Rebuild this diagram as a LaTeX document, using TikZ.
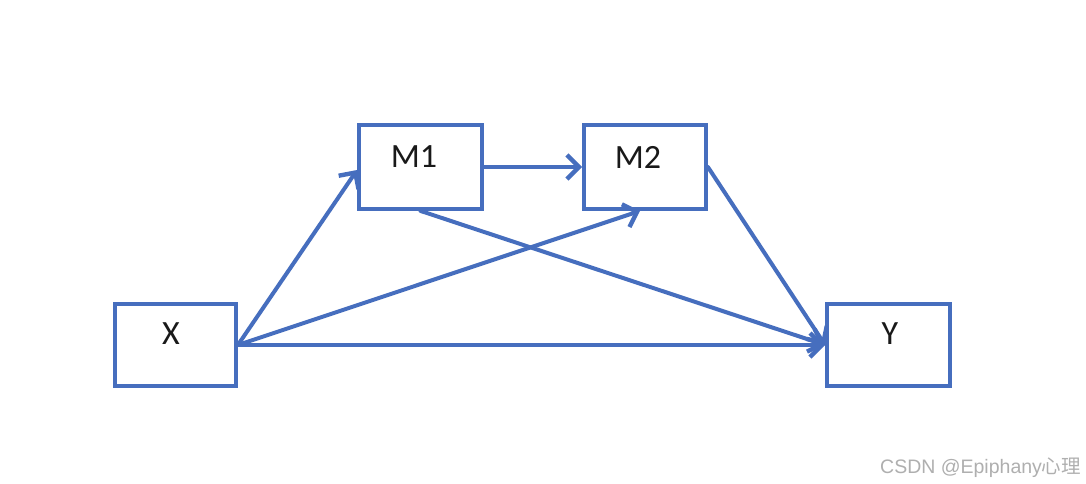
\documentclass[tikz,border=0pt]{standalone}
\usepackage{fontspec}
\setmainfont{Carlito}
\newfontfamily\wmfont{Liberation Sans}
\newfontfamily\cjkfont{Noto Sans CJK SC}
\usetikzlibrary{arrows.meta}
\definecolor{officeblue}{RGB}{70,110,190}
\definecolor{wmgray}{RGB}{175,175,175}
\tikzset{
  box/.style={draw=officeblue, line width=3.8pt, minimum width=122pt, minimum height=84pt, inner sep=0pt},
  lbl/.style={font=\fontsize{34}{40}\selectfont, text=black!90, inner sep=0pt},
  conn/.style={draw=officeblue, line width=4pt, line cap=round, -{Straight Barb[length=12pt,width=24pt,line width=4.4pt]}}
}
\begin{document}
\begin{tikzpicture}[x=1pt,y=-1pt]
\path[fill=white] (0,0) rectangle (1086,484);
\useasboundingbox (0,0) rectangle (1086,484);
\node[box, minimum width=121pt, minimum height=82pt] (X) at (175.5,345) {};
\node[box, minimum width=123pt] (M1) at (420.5,167) {};
\node[box] (M2) at (645,167) {};
\node[box, minimum width=123pt, minimum height=82pt] (Y) at (888.5,345) {};
\node[lbl] (tX) at (171,334) {X};
\node[lbl] (tM1) at (414,157) {M1};
\node[lbl] (tM2) at (638,157) {M2};
\node[lbl] (tY) at (890,334) {Y};
\draw[conn] (X.east) -- ([yshift=-3pt]M1.west);
\draw[conn] (X.east) -- ([xshift=-5pt]M2.south);
\draw[conn] (X.east) -- (Y.west);
\draw[conn] (M1.east) -- (M2.west);
\draw[conn] (M1.south) -- (Y.west);
\draw[conn] (M2.east) -- (Y.west);
\node[anchor=base west, inner sep=0pt, text=wmgray, font=\fontsize{19.5}{22}\selectfont] (wm) at (880,473) {\wmfont CSDN @Epiphany\cjkfont 心理};
\end{tikzpicture}
\end{document}
